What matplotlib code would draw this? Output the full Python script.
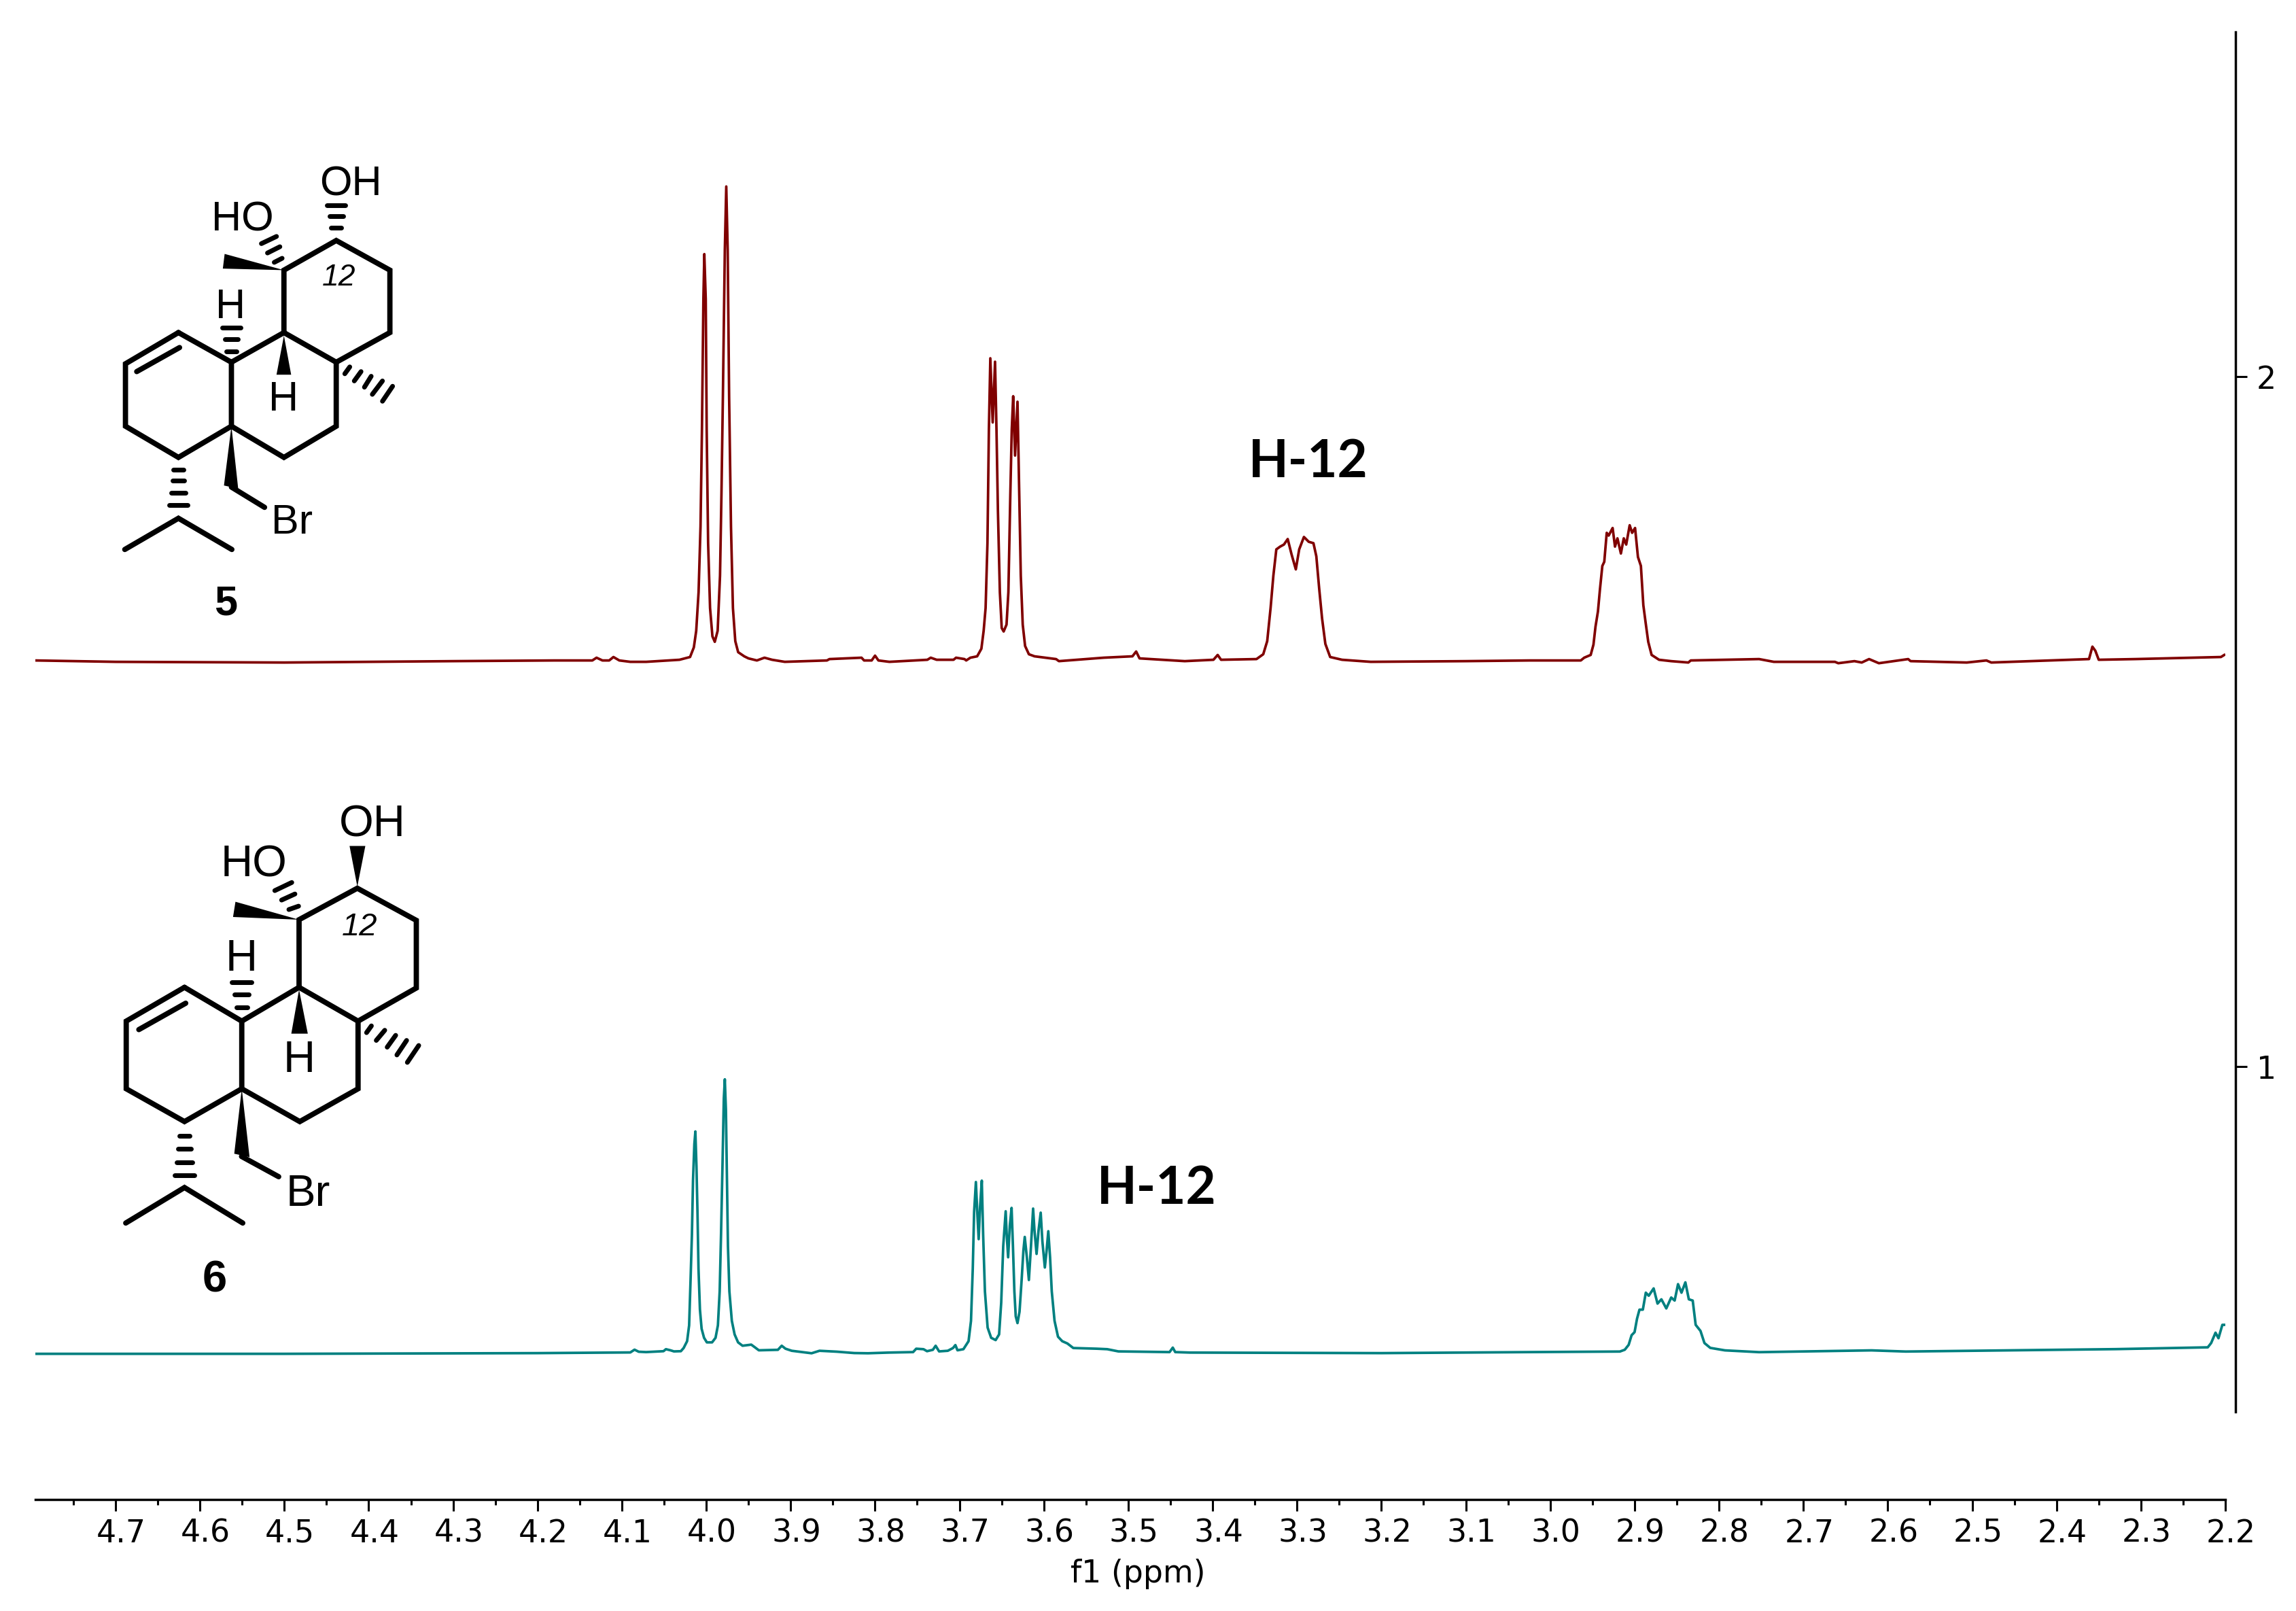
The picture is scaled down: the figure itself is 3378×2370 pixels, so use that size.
import matplotlib
matplotlib.use("Agg")
import matplotlib.pyplot as plt
from matplotlib.transforms import ScaledTranslation

# spectrum of compound 5
ppm_5 = [4.795, 4.70, 4.50, 4.30, 4.18, 4.135, 4.130, 4.123, 4.115, 4.110, 4.103, 4.09,
         4.0712, 4.0317, 4.0192, 4.0147, 4.0119, 4.0091, 4.0068, 4.0051, 4.0034, 4.0023, 4.0006, 3.9995,
         3.9978, 3.9955, 3.9927, 3.9899, 3.9865, 3.9837, 3.982, 3.9803, 3.978, 3.9763, 3.9746, 3.9729,
         3.9707, 3.9684, 3.9656, 3.9622, 3.955, 3.95, 3.94, 3.931, 3.922, 3.907, 3.857, 3.854,
         3.816, 3.813, 3.804, 3.80, 3.796, 3.783, 3.738, 3.734, 3.727, 3.707, 3.704, 3.694,
         3.692, 3.687, 3.679, 3.674, 3.6713, 3.669, 3.6668, 3.6651, 3.6634, 3.6606, 3.6578, 3.6561,
         3.6544, 3.6521, 3.6499, 3.6476, 3.6442, 3.642, 3.6397, 3.638, 3.6363, 3.6341, 3.6312, 3.6295,
         3.6273, 3.625, 3.6222, 3.6177, 3.611, 3.5855, 3.5821, 3.529, 3.495, 3.4906, 3.4866, 3.433,
         3.399, 3.394, 3.39, 3.348, 3.34, 3.3353, 3.3313, 3.328, 3.3245, 3.32, 3.3155, 3.311,
         3.3065, 3.3014, 3.2974, 3.2918, 3.2861, 3.2805, 3.2771, 3.2737, 3.2703, 3.2664, 3.2607, 3.2466,
         3.2127, 3.10, 3.0245, 2.9637, 2.9597, 2.952, 2.9487, 2.9463, 2.9434, 2.9411, 2.9382, 2.9359,
         2.933, 2.9307, 2.929, 2.926, 2.9232, 2.9203, 2.9162, 2.9128, 2.9099, 2.9058, 2.9029, 2.8994,
         2.896, 2.8925, 2.8896, 2.8867, 2.8838, 2.8798, 2.871, 2.8566, 2.8363, 2.8334, 2.7524, 2.735,
         2.6626, 2.6586, 2.6395, 2.6308, 2.6221, 2.6105, 2.5758, 2.5729, 2.5063, 2.4831, 2.4773, 2.3615,
         2.3575, 2.354, 2.35, 2.3065, 2.2052, 2.2012]
int_5 = [1.589, 1.587, 1.586, 1.588, 1.589, 1.589, 1.593, 1.589, 1.589, 1.594, 1.589, 1.587,
         1.587, 1.590, 1.594, 1.608, 1.632, 1.688, 1.783, 1.924, 2.113, 2.178, 2.113, 1.924,
         1.759, 1.665, 1.624, 1.616, 1.632, 1.712, 1.830, 1.971, 2.184, 2.276, 2.184, 1.971,
         1.783, 1.665, 1.617, 1.601, 1.595, 1.592, 1.589, 1.593, 1.590, 1.587, 1.589, 1.591,
         1.593, 1.589, 1.589, 1.596, 1.589, 1.587, 1.590, 1.593, 1.590, 1.590, 1.593, 1.591,
         1.589, 1.593, 1.595, 1.606, 1.632, 1.665, 1.759, 1.924, 2.027, 1.934, 2.022, 1.924,
         1.806, 1.688, 1.636, 1.631, 1.641, 1.688, 1.830, 1.924, 1.972, 1.886, 1.964, 1.853,
         1.712, 1.641, 1.610, 1.598, 1.595, 1.591, 1.588, 1.593, 1.595, 1.602, 1.592, 1.588,
         1.590, 1.597, 1.590, 1.591, 1.598, 1.617, 1.665, 1.712, 1.750, 1.754, 1.757, 1.765,
         1.743, 1.721, 1.750, 1.768, 1.761, 1.759, 1.740, 1.693, 1.650, 1.613, 1.594, 1.590,
         1.587, 1.588, 1.589, 1.589, 1.593, 1.597, 1.612, 1.638, 1.660, 1.691, 1.726, 1.732,
         1.774, 1.770, 1.774, 1.781, 1.754, 1.766, 1.744, 1.766, 1.757, 1.785, 1.774, 1.781,
         1.739, 1.726, 1.669, 1.642, 1.616, 1.597, 1.590, 1.588, 1.586, 1.589, 1.591, 1.587,
         1.587, 1.585, 1.588, 1.586, 1.591, 1.585, 1.591, 1.588, 1.586, 1.589, 1.586, 1.591,
         1.609, 1.603, 1.590, 1.591, 1.594, 1.597]

# spectrum of compound 6
ppm_6 = [4.795, 4.50, 4.20, 4.09, 4.085, 4.08, 4.0712, 4.0507, 4.0478, 4.0424, 4.0383, 4.0301,
         4.0268, 4.0227, 4.0203, 4.0186, 4.017, 4.0157, 4.0141, 4.0129, 4.0116, 4.0104, 4.0092, 4.0075,
         4.0055, 4.0026, 3.9993, 3.9931, 3.989, 3.9862, 3.9841, 3.9825, 3.9808, 3.9792, 3.978, 3.9767,
         3.9755, 3.9743, 3.9726, 3.9697, 3.9664, 3.9623, 3.957, 3.9467, 3.943, 3.9377, 3.9151, 3.9106,
         3.9061, 3.8987, 3.8863, 3.8752, 3.8658, 3.8453, 3.8247, 3.8083, 3.7836, 3.7549, 3.7512, 3.7426,
         3.7384, 3.7315, 3.7282, 3.7241, 3.7138, 3.7076, 3.7048, 3.7023, 3.6953, 3.6892, 3.6863, 3.6842,
         3.6826, 3.6805, 3.6789, 3.6772, 3.6756, 3.6735, 3.6719, 3.6698, 3.6666, 3.6624, 3.6571, 3.653,
         3.6505, 3.6481, 3.6452, 3.644, 3.6423, 3.6403, 3.6382, 3.6366, 3.6349, 3.6333, 3.6312, 3.6288,
         3.6263, 3.6242, 3.6226, 3.6201, 3.6177, 3.6152, 3.6127, 3.6111, 3.6086, 3.6062, 3.6037, 3.6017,
         3.5988, 3.5967, 3.5947, 3.5926, 3.5906, 3.5873, 3.5832, 3.5782, 3.5721, 3.5651, 3.5372, 3.5248,
         3.5117, 3.451, 3.4472, 3.4443, 3.427, 3.20, 3.0245, 2.9174, 2.9116, 2.907, 2.9035, 2.90,
         2.8971, 2.8942, 2.8902, 2.8867, 2.8832, 2.8774, 2.8728, 2.8682, 2.8624, 2.8566, 2.8525, 2.8485,
         2.8444, 2.8398, 2.8357, 2.8311, 2.8276, 2.8219, 2.8172, 2.8103, 2.7929, 2.7524, 2.6192, 2.5787,
         2.3297, 2.2208, 2.2168, 2.2116, 2.2081, 2.2035, 2.20]
int_6 = [0.584, 0.584, 0.585, 0.586, 0.590, 0.587, 0.5865, 0.5878, 0.5907, 0.5891, 0.5875, 0.5878,
         0.5924, 0.6023, 0.6253, 0.6910, 0.7567, 0.8356, 0.8882, 0.9063, 0.8554, 0.7896, 0.7074, 0.6483,
         0.6203, 0.6072, 0.6006, 0.6006, 0.6072, 0.6253, 0.6746, 0.7567, 0.8554, 0.9540, 0.9819, 0.9375,
         0.8389, 0.7403, 0.6746, 0.6318, 0.6121, 0.6006, 0.5957, 0.5973, 0.5940, 0.5891, 0.5898, 0.5957,
         0.5914, 0.5884, 0.5865, 0.5848, 0.5884, 0.5871, 0.5851, 0.5848, 0.5858, 0.5865, 0.5914, 0.5907,
         0.5878, 0.5898, 0.5957, 0.5875, 0.5884, 0.5924, 0.5967, 0.5891, 0.5907, 0.6023, 0.6318, 0.7074,
         0.7896, 0.8330, 0.7896, 0.7502, 0.7962, 0.8350, 0.7567, 0.6746, 0.6220, 0.6072, 0.6039, 0.6121,
         0.6581, 0.7403, 0.7906, 0.7567, 0.7239, 0.7699, 0.7955, 0.7403, 0.6746, 0.6384, 0.6285, 0.6450,
         0.6910, 0.7337, 0.7534, 0.7239, 0.6910, 0.7403, 0.7945, 0.7633, 0.7288, 0.7633, 0.7886, 0.7469,
         0.7091, 0.7337, 0.7617, 0.7239, 0.6746, 0.6318, 0.6088, 0.6023, 0.5990, 0.5924, 0.5914, 0.5907,
         0.5875, 0.5865, 0.5930, 0.5865, 0.5858, 0.585, 0.5865, 0.5873, 0.5899, 0.5970, 0.611, 0.6154,
         0.6348, 0.648, 0.648, 0.6726, 0.6682, 0.6788, 0.6568, 0.663, 0.6498, 0.6656, 0.6612, 0.685,
         0.6726, 0.6876, 0.663, 0.6612, 0.626, 0.6172, 0.5996, 0.5926, 0.589, 0.5864, 0.589, 0.5873,
         0.5908, 0.5934, 0.5996, 0.6146, 0.6066, 0.626, 0.626]

x_ticks = [4.7, 4.6, 4.5, 4.4, 4.3, 4.2, 4.1, 4.0, 3.9, 3.8, 3.7, 3.6, 3.5,
           3.4, 3.3, 3.2, 3.1, 3.0, 2.9, 2.8, 2.7, 2.6, 2.5, 2.4, 2.3, 2.2]
x_minor = [4.75, 4.65, 4.55, 4.45, 4.35, 4.25, 4.15, 4.05, 3.95, 3.85, 3.75, 3.65, 3.55,
           3.45, 3.35, 3.25, 3.15, 3.05, 2.95, 2.85, 2.75, 2.65, 2.55, 2.45, 2.35, 2.25]
y_ticks = [1, 2]

W, H = 3378, 2370
fig = plt.figure(figsize=(W / 100, H / 100), dpi=100)
ax = fig.add_axes([52 / W, 1 - 2206 / H, (3274 - 52) / W, (2206 - 47) / H])
ax.plot(ppm_5, int_5, color="#800000", lw=2.7)
ax.plot(ppm_6, int_6, color="#008080", lw=2.7)
ax.set_xlim(4.795, 2.2)
ax.set_ylim(0.3728, 2.5)

ax.spines["left"].set_visible(False)
ax.spines["top"].set_visible(False)
ax.spines["right"].set_position(("outward", 10.8))
ax.spines["right"].set_bounds(0.5, 2.5)
ax.spines["right"].set_linewidth(2.5)
ax.spines["bottom"].set_linewidth(2.5)

ax.set_xticks(x_ticks)
ax.set_xticks(x_minor, minor=True)
ax.set_xticklabels(["%.1f" % t for t in x_ticks])
ax.tick_params(axis="x", which="major", length=12, width=2.2, labelsize=33, pad=8)
ax.tick_params(axis="x", which="minor", length=6, width=2.2)
# the labels sit a little right of their ticks in the original
shift = ScaledTranslation(8.5 / 100, 0, fig.dpi_scale_trans)
for lab in ax.get_xticklabels():
    lab.set_transform(lab.get_transform() + shift)
ax.yaxis.tick_right()
ax.set_yticks(y_ticks)
ax.set_yticklabels(["1", "2"])
ax.tick_params(axis="y", length=12, width=2.2, labelsize=33, pad=10)
ax.set_xlabel("f1 (ppm)", fontsize=33, labelpad=10, x=0.5034)

# overlay in pixels for the drawn structures and H-12 notes
ov = fig.add_axes([0, 0, 1, 1])
ov.set_xlim(0, W)
ov.set_ylim(H, 0)
ov.axis("off")
ov.patch.set_alpha(0)


def draw_molecule(sx, sy, ox, oy, bonds, wedges, hashes, labels):
    def px(p):
        return ox + p[0] / sx, oy + p[1] / sy
    for chain in bonds:
        pts = [px(p) for p in chain]
        ov.plot([p[0] for p in pts], [p[1] for p in pts], color="k", lw=5.6,
                solid_capstyle="round", solid_joinstyle="miter")
    for w in wedges:
        ov.fill([px(p)[0] for p in w], [px(p)[1] for p in w], color="k", lw=0)
    for a, b in hashes:
        ov.plot([px(a)[0], px(b)[0]], [px(a)[1], px(b)[1]], color="k", lw=5, solid_capstyle="round")
    for x, y, s, size, kw in labels:
        cx, cy = px((x, y))
        ov.text(cx, cy + 5, s, fontsize=size, ha="center", va="center", family="Liberation Sans", **kw)


bonds_5 = [[(490, 630), (255, 730), (255, 930), (490, 1030), (725, 930), (725, 725), (490, 630)],
           [(725, 725), (958, 630), (958, 430), (1190, 335), (1428, 430), (1428, 630), (1190, 725), (958, 630)],
           [(1190, 725), (1190, 930), (958, 1030), (725, 930)],
           [(305, 755), (495, 678)],
           [(252, 1325), (490, 1225), (727, 1325)],
           [(725, 1125), (872, 1190)]]
wedges_5 = [[(725, 930), (692, 1120), (755, 1130)],
            [(958, 640), (925, 765), (990, 765)],
            [(958, 430), (695, 378), (687, 425)]]
hashes_5 = [((468, 1070), (512, 1070)), ((463, 1105), (517, 1105)), ((457, 1143), (523, 1143)), ((450, 1182), (530, 1182)),
            ((703, 690), (747, 690)), ((695, 652), (755, 652)), ((685, 615), (765, 615)),
            ((1168, 295), (1212, 295)), ((1160, 258), (1220, 258)), ((1150, 222), (1230, 222)),
            ((915, 405), (950, 392)), ((885, 375), (940, 355)), ((858, 345), (925, 322)),
            ((1228, 762), (1250, 740)), ((1270, 785), (1300, 755)), ((1315, 805), (1345, 770)),
            ((1350, 828), (1395, 785)), ((1395, 850), (1440, 802))]
labels_5 = [(1255, 145, "OH", 44, {}), (775, 260, "HO", 44, {}), (722, 540, "H", 44, {}), (955, 835, "H", 44, {}),
            (993, 1230, "Br", 44, {}), (1203, 443, "12", 32, {"style": "italic"}),
            (700, 1490, "5", 44, {"weight": "bold"})]
draw_molecule(3.015, 2.178, 100, 200, bonds_5, wedges_5, hashes_5, labels_5)

bonds_6 = [[(480, 608), (240, 708), (240, 908), (480, 1005), (716, 908), (716, 708), (480, 608)],
           [(716, 708), (952, 608), (952, 408), (1192, 315), (1435, 410), (1435, 610), (1195, 708), (952, 608)],
           [(1195, 708), (1195, 908), (955, 1005), (716, 908)],
           [(292, 733), (485, 655)],
           [(238, 1305), (480, 1200), (720, 1305)],
           [(715, 1108), (868, 1168)]]
wedges_6 = [[(716, 908), (685, 1100), (748, 1110)],
            [(952, 615), (920, 745), (988, 745)],
            [(952, 408), (690, 355), (680, 400)],
            [(1192, 310), (1160, 190), (1225, 190)]]
hashes_6 = [((460, 1048), (500, 1048)), ((453, 1085), (507, 1085)), ((447, 1125), (513, 1125)), ((440, 1163), (520, 1163)),
            ((694, 668), (738, 668)), ((686, 630), (746, 630)), ((676, 592), (756, 592)),
            ((910, 378), (950, 368)), ((880, 350), (935, 332)), ((852, 322), (922, 298)),
            ((1230, 742), (1250, 722)), ((1270, 765), (1305, 735)), ((1315, 785), (1350, 750)),
            ((1355, 808), (1395, 765)), ((1398, 830), (1445, 780))]
labels_6 = [(1255, 118, "OH", 47, {}), (767, 237, "HO", 47, {}), (714, 515, "H", 47, {}), (952, 815, "H", 47, {}),
            (990, 1210, "Br", 47, {}), (1200, 420, "12", 34, {"style": "italic"}),
            (605, 1465, "6", 47, {"weight": "bold"})]
draw_molecule(2.8, 2.01, 100, 1150, bonds_6, wedges_6, hashes_6, labels_6)

ov.text(1925, 680, "H-12", fontsize=55, weight="bold", family="Lato", ha="center", va="center")
ov.text(1702, 1749, "H-12", fontsize=55, weight="bold", family="Lato", ha="center", va="center")

fig.savefig("out.png", dpi=100, facecolor="white")
